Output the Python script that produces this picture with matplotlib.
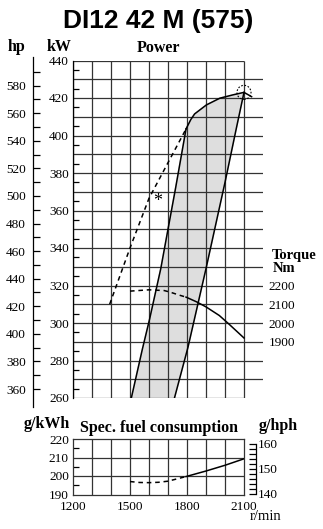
import matplotlib.pyplot as plt
from matplotlib.patches import Ellipse

W, H = 323, 529
SERIF = 'Liberation Serif'
plt.rcParams['font.family'] = SERIF

# grid / tick values
rpm_grid = list(range(1200, 2101, 100))
kw_lines = list(range(270, 431, 10))
kw_ticks = list(range(260, 441, 20))
kw_minor = list(range(265, 436, 10))
hp_ticks = list(range(360, 581, 20))
hp_minor = list(range(370, 591, 20))
torque_ticks = [1900, 2000, 2100, 2200]
fuel_ticks = [190, 200, 210, 220]
fuel_minor = [195, 205, 215]
fuel_xticks = [1200, 1500, 1800, 2100]
ghph_ticks = [140, 150, 160]
ghph_minor = [142, 144, 146, 148, 152, 154, 156, 158]

# max power (kW)
power_rpm_dash = [1393, 1500, 1600, 1700, 1795]
power_kw_dash = [310, 340, 366.5, 385.5, 403.5]
power_rpm = [1795, 1820, 1840, 1902, 1973, 2043, 2100, 2140]
power_kw = [403.5, 408.5, 411.5, 416.3, 419.9, 421.7, 423, 420.7]

# propeller band limits
left_rpm = [1507, 1565, 1603, 1662, 1700, 1740, 1795]
left_kw = [260, 286, 302, 329, 350, 372, 403.5]
right_rpm = [2100, 2060, 2000, 1900, 1805, 1734]
right_kw = [423, 404, 375, 329, 287, 260]

# torque (Nm)
torque_rpm_dash = [1500, 1600, 1680, 1710, 1765, 1795]
torque_dash = [2170, 2177, 2173, 2165, 2147, 2138]
torque_rpm = [1795, 1850, 1900, 1970, 2020, 2100]
torque = [2138, 2113, 2086, 2040, 1995, 1920]

# specific fuel consumption (g/kWh)
fuel_rpm_dash = [1500, 1550, 1600, 1650, 1700, 1795]
fuel_dash = [197.0, 196.5, 196.4, 196.6, 197.2, 199.7]
fuel_rpm = [1795, 1900, 2000, 2100]
fuel = [199.7, 202.7, 205.8, 209.3]

KW_HP = 1.3596
DASH = (0, (3, 2.5))
GRID = dict(color='#333333', lw=0.9)


def fx(px):
    return px / W


def fy(py):
    return 1 - py / H


fig = plt.figure(figsize=(W / 100, H / 100), dpi=100)

# ---------------- power / torque ----------------
ax = fig.add_axes([fx(73), fy(398), fx(190), 337.5 / H])
ax.set_xlim(1200, 2200)
ax.set_ylim(260, 440)
for s in ['top', 'right', 'bottom']:
    ax.spines[s].set_visible(False)
ax.spines['left'].set_linewidth(0.9)

ax.hlines(kw_lines, 1200, 2200, **GRID)
ax.hlines([260, 440], 1200, 2100, **GRID)
ax.vlines(rpm_grid, 260, 440, **GRID)

band_x = left_rpm + [r for r in power_rpm if r <= 2100] + right_rpm
band_y = left_kw + [k for r, k in zip(power_rpm, power_kw) if r <= 2100] + right_kw
ax.fill(band_x, band_y, color='#dedede', zorder=1)
ax.plot(left_rpm, left_kw, color='black', lw=1.1, zorder=3)
ax.plot(right_rpm, right_kw, color='black', lw=1.1, zorder=3)

ax.plot(power_rpm_dash, power_kw_dash, color='black', lw=1.1, ls=DASH, zorder=3)
ax.plot(power_rpm, power_kw, color='black', lw=1.1, zorder=3)
pk = max(power_kw)
pr = power_rpm[power_kw.index(pk)]
ax.add_patch(Ellipse((pr, pk), 74, 7.5, fill=False, ls=(0, (1.5, 1.5)),
                     lw=0.8, color='black', zorder=3))

tq_kw_dash = [(t + 1000) / 10 for t in torque_dash]
tq_kw = [(t + 1000) / 10 for t in torque]
ax.plot(torque_rpm_dash, tq_kw_dash, color='black', lw=1.1, ls=DASH, zorder=3)
ax.plot(torque_rpm, tq_kw, color='black', lw=1.1, zorder=3)

ax.text(1644, 365, '*', fontsize=13, ha='center', va='center')

ax.set_xticks([])
ax.set_yticks(kw_ticks)
ax.set_yticks(kw_minor, minor=True)
ax.tick_params(axis='y', which='major', length=0, pad=3, labelsize=9.5)
ax.tick_params(axis='y', which='minor', length=4.5, width=0.9, direction='in')

hp = ax.secondary_yaxis(-0.2105, functions=(lambda k: k * KW_HP, lambda h: h / KW_HP))
hp.set_yticks(hp_ticks)
hp.set_yticks(hp_minor, minor=True)
hp.tick_params(which='both', length=5, width=0.9, direction='in', pad=5, labelsize=9.5)
hp.spines['left'].set_linewidth(0.9)
hp.spines['left'].set_bounds(347, 601)

tq = ax.secondary_yaxis('right', functions=(lambda k: 10 * k - 1000, lambda t: (t + 1000) / 10))
tq.set_yticks(torque_ticks)
tq.tick_params(length=0, pad=4, labelsize=9.5)
tq.spines['right'].set_visible(False)

# ---------------- fuel consumption ----------------
af = fig.add_axes([fx(73), fy(494.5), fx(171), 55.5 / H])
af.set_xlim(1200, 2100)
af.set_ylim(190, 220)
for s in af.spines.values():
    s.set_linewidth(0.9)
    s.set_color('#333333')
af.vlines(rpm_grid[1:-1], 190, 220, **GRID)
af.hlines([200, 210], 1200, 2100, **GRID)
af.plot(fuel_rpm_dash, fuel_dash, color='black', lw=1.1, ls=DASH)
af.plot(fuel_rpm, fuel, color='black', lw=1.1)

af.set_xticks(fuel_xticks)
af.tick_params(axis='x', length=0, pad=5, labelsize=9.5)
af.set_yticks(fuel_ticks)
af.set_yticks(fuel_minor, minor=True)
af.tick_params(axis='y', which='major', length=0, pad=3, labelsize=9.5)
af.tick_params(axis='y', which='minor', length=4.5, width=0.9, direction='in')

gh = af.secondary_yaxis(1.070, functions=(lambda g: g / KW_HP, lambda g: g * KW_HP))
gh.set_yticks(ghph_ticks)
gh.set_yticks(ghph_minor, minor=True)
gh.tick_params(which='both', length=5, width=0.9, direction='in', pad=1, labelsize=9.5)
gh.spines['right'].set_linewidth(0.9)
gh.spines['right'].set_bounds(140, 160)

# ---------------- texts ----------------
fig.text(fx(158), fy(21), 'DI12 42 M (575)', ha='center', va='center',
         fontsize=19, fontweight='bold', family='Liberation Sans')
bold = dict(fontsize=11.5, fontweight='bold', va='center')
fig.text(fx(16), fy(47), 'hp', ha='center', **bold)
fig.text(fx(59), fy(47), 'kW', ha='center', **bold)
fig.text(fx(158), fy(48), 'Power', ha='center', **bold)
fig.text(fx(272), fy(255.5), 'Torque', ha='left', fontsize=10.5, fontweight='bold', va='center')
fig.text(fx(273), fy(268.5), 'Nm', ha='left', fontsize=10.5, fontweight='bold', va='center')
fig.text(fx(47), fy(424), 'g/kWh', ha='center', **bold)
fig.text(fx(159), fy(428), 'Spec. fuel consumption', ha='center', **bold)
fig.text(fx(278), fy(426), 'g/hph', ha='center', **bold)
fig.text(fx(266), fy(517), 'r/min', ha='center', va='center', fontsize=10.5)

fig.savefig('out.png', dpi=100)
